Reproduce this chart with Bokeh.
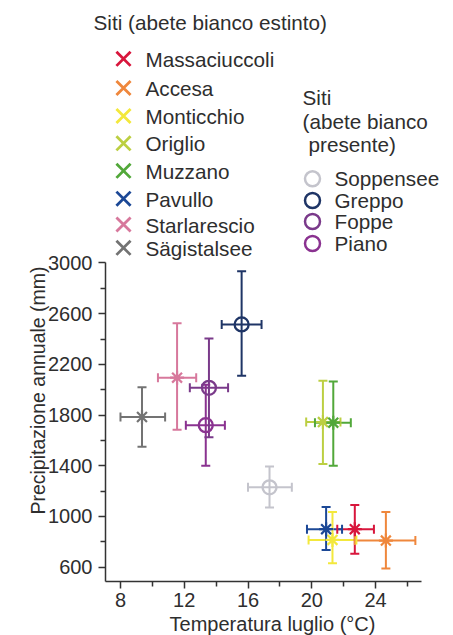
import math
from bokeh.plotting import figure
from bokeh.models import Range1d, FixedTicker, ColumnDataSource
from bokeh.core.properties import value
from bokeh.embed import file_html
from bokeh.resources import INLINE

# ---------------- data ----------------
extinct_names = ["Massaciuccoli", "Accesa", "Monticchio", "Origlio",
                 "Muzzano", "Pavullo", "Starlarescio", "Sägistalsee"]
extinct_colors = ["#d8163c", "#ef873c", "#f3e83c", "#bccf42",
                  "#52a83a", "#1c4896", "#d7789c", "#737373"]
extinct_temp = [22.7, 24.65, 21.3, 20.7, 21.35, 20.9, 11.55, 9.35]
extinct_temp_lo = [21.6, 22.7, 19.8, 19.65, 20.2, 19.7, 10.35, 8.0]
extinct_temp_hi = [23.9, 26.5, 22.8, 21.8, 22.45, 21.9, 12.75, 10.8]
extinct_prec = [900, 810, 815, 1745, 1740, 900, 2095, 1785]
extinct_prec_lo = [705, 590, 630, 1415, 1400, 735, 1685, 1550]
extinct_prec_hi = [1090, 1035, 1035, 2070, 2065, 1075, 2525, 2020]

present_names = ["Soppensee", "Greppo", "Foppe", "Piano"]
present_colors = ["#c4c4cc", "#1f3566", "#7a3a8a", "#8a3290"]
present_temp = [17.35, 15.6, 13.55, 13.35]
present_temp_lo = [16.0, 14.35, 12.35, 12.1]
present_temp_hi = [18.75, 16.85, 14.75, 14.55]
present_prec = [1230, 2515, 2015, 1720]
present_prec_lo = [1070, 2110, 1625, 1400]
present_prec_hi = [1395, 2935, 2405, 2040]

x_major = [8, 12, 16, 20, 24]
x_minor = [10, 14, 18, 22, 26]
y_major = [600, 1000, 1400, 1800, 2200, 2600, 3000]
y_minor = [800, 1200, 1600, 2000, 2400, 2800]

title_extinct = "Siti (abete bianco estinto)"
title_present = ["Siti", "(abete bianco", "presente)"]
x_label = "Temperatura luglio (°C)"
y_label = "Precipitazione annuale (mm)"

# ---------------- layout ----------------
W, H = 453, 635
BL, BR, BT, BB = 105, 32, 10, 54
frame_w = W - BL - BR
frame_h = H - BT - BB
x_start, x_px = 7.06, 15.94
y_start, y_px = 487.0, 0.12675
x_end = x_start + frame_w / x_px
y_end = y_start + frame_h / y_px
Y_TOP = 3000

FONT = "Liberation Sans"
TXT = "#2e2e2e"
LEG_SIZE = "20.7px"


def dx(px):  # canvas x -> data x (layout helper for legend/labels)
    return x_start + (px - BL) / x_px


def dy(py):  # canvas y -> data y
    return y_start + ((H - BB) - py) / y_px


p = figure(width=W, height=H, output_backend="svg", toolbar_location=None,
           x_range=Range1d(x_start, x_end), y_range=Range1d(y_start, y_end),
           min_border_left=BL, min_border_right=BR,
           min_border_top=BT, min_border_bottom=BB)
p.outline_line_color = None
p.grid.visible = False
p.background_fill_color = "white"
p.border_fill_color = "white"

for ax in (p.xaxis[0], p.yaxis[0]):
    ax.axis_line_color = "#333333"
    ax.axis_line_width = 1.5
    ax.major_tick_line_color = "#333333"
    ax.minor_tick_line_color = "#333333"
    ax.major_tick_line_width = 1.5
    ax.minor_tick_line_width = 1.5
    ax.major_tick_in = 0
    ax.minor_tick_in = 0
    ax.major_tick_out = 7
    ax.minor_tick_out = 5
    ax.major_label_text_font = FONT
    ax.major_label_text_font_size = "20px"
    ax.major_label_text_color = TXT

p.xaxis.ticker = FixedTicker(ticks=x_major, minor_ticks=x_minor)
p.yaxis.ticker = FixedTicker(ticks=y_major, minor_ticks=y_minor)
p.xaxis.major_label_standoff = 4
p.yaxis.major_label_standoff = 6
p.yaxis.bounds = (y_start, Y_TOP)

# ---------------- error bars & points ----------------
CAP = 9


def draw_group(names, colors, t, tlo, thi, pr, plo, phi, marker):
    src = ColumnDataSource(dict(name=names, color=colors, t=t, tlo=tlo, thi=thi,
                                pr=pr, plo=plo, phi=phi))
    p.segment(x0="tlo", y0="pr", x1="thi", y1="pr", color="color",
              line_width=2, source=src)
    p.segment(x0="t", y0="plo", x1="t", y1="phi", color="color",
              line_width=2, source=src)
    for col in ("tlo", "thi"):
        p.scatter(x=col, y="pr", marker="dash", angle=math.pi / 2, size=CAP,
                  line_color="color", line_width=2, source=src)
    for col in ("plo", "phi"):
        p.scatter(x="t", y=col, marker="dash", size=CAP,
                  line_color="color", line_width=2, source=src)
    if marker == "asterisk":
        p.scatter(x="t", y="pr", marker="asterisk", size=14,
                  line_color="color", line_width=2.2, source=src)
    else:
        p.scatter(x="t", y="pr", marker="circle", size=14, fill_color=None,
                  line_color="color", line_width=2.3, source=src)


draw_group(extinct_names, extinct_colors, extinct_temp, extinct_temp_lo,
           extinct_temp_hi, extinct_prec, extinct_prec_lo, extinct_prec_hi,
           "asterisk")
draw_group(present_names, present_colors, present_temp, present_temp_lo,
           present_temp_hi, present_prec, present_prec_lo, present_prec_hi,
           "circle")


# ---------------- texts ----------------
def add_text(txt, px, py, align="left", angle=0.0, size=LEG_SIZE):
    r = p.text(x=[dx(px)], y=[dy(py)], text=[txt], text_font=value(FONT),
               text_font_size=size, text_color=TXT, text_align=align,
               text_baseline="middle", angle=angle)
    r.level = "overlay"


add_text(title_extinct, 93, 22)
leg1_y = [58.3, 87.5, 115.5, 142.8, 170.3, 198.2, 224.0, 247.3]
leg1 = ColumnDataSource(dict(x=[dx(123)] * len(extinct_names),
                             y=[dy(v) for v in leg1_y], color=extinct_colors))
p.scatter(x="x", y="y", marker="x", size=20, line_color="color",
          line_width=2.8, source=leg1)
for name, yy in zip(extinct_names, leg1_y):
    add_text(name, 145, yy + 0.5)

for line, (px, py) in zip(title_present, [(302, 97), (302, 121), (308, 144)]):
    add_text(line, px, py)
leg2_y = [178.3, 200.0, 221.0, 243.0]
leg2 = ColumnDataSource(dict(x=[dx(312)] * len(present_names),
                             y=[dy(v) for v in leg2_y], color=present_colors))
p.scatter(x="x", y="y", marker="circle", size=15, fill_color=None,
          line_color="color", line_width=2.5, source=leg2)
for name, yy in zip(present_names, leg2_y):
    add_text(name, 334, yy)

# ---------------- axis titles ----------------
add_text(y_label, 37, 390, align="center", angle=math.pi / 2, size="19.5px")
add_text(x_label, 272, 623, align="center", size="20px")

open("out.html", "w").write(file_html(p, INLINE))
